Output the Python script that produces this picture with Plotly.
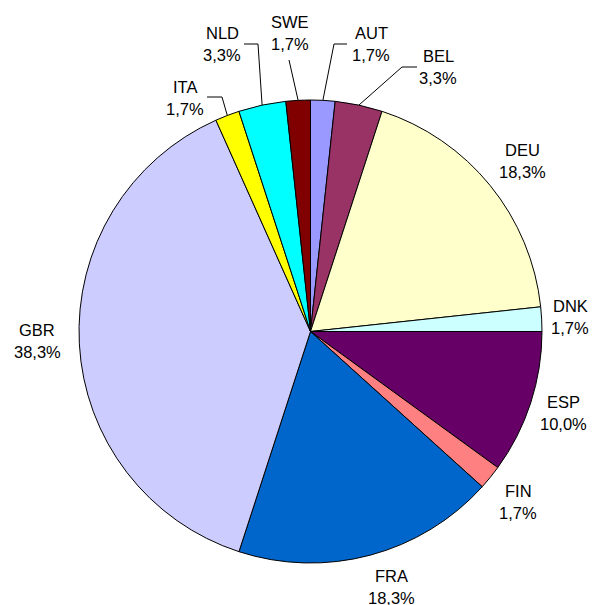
import math
import plotly.graph_objects as go

# Share of observations by country (percent), clockwise from 12 o'clock
countries = ["AUT", "BEL", "DEU", "DNK", "ESP", "FIN", "FRA", "GBR", "ITA", "NLD", "SWE"]
shares = [1.7, 3.3, 18.3, 1.7, 10.0, 1.7, 18.3, 38.3, 1.7, 3.3, 1.7]
colors = ["#9999FF", "#993366", "#FFFFCC", "#CCFFFF", "#660066", "#FF8080",
          "#0066CC", "#CCCCFF", "#FFFF00", "#00FFFF", "#800000"]

W, H = 592, 605
# pie placement in pixels
PIE_LEFT, PIE_RIGHT, PIE_TOP, PIE_BOTTOM = 78, 543, 100, 563
CX = (PIE_LEFT + PIE_RIGHT) / 2
CY = (PIE_TOP + PIE_BOTTOM) / 2
R = min(PIE_RIGHT - PIE_LEFT, PIE_BOTTOM - PIE_TOP) / 2

# label block centres (pixels) and leader-line routes for the crowded slices
label_pos = {
    "AUT": (371, 44), "BEL": (438, 67), "DEU": (522, 161), "DNK": (570, 317),
    "ESP": (563, 413), "FIN": (518, 502), "FRA": (391, 587), "GBR": (37, 341),
    "ITA": (185, 98), "NLD": (222, 44), "SWE": (290, 33),
}
leader_route = {
    "AUT": [(334, 44), (347, 44)],
    "BEL": [(402, 67), (417, 67)],
    "NLD": [(258, 44), (244, 44)],
    "ITA": [(222, 97), (207, 97)],
    "SWE": [(289, 60)],
}

def fmt(v):
    return f"{v:.1f}".replace(".", ",") + "%"

fig = go.Figure()
fig.add_trace(go.Pie(
    labels=countries, values=shares, sort=False, direction="clockwise", rotation=0,
    marker=dict(colors=colors, line=dict(color="black", width=1)),
    textinfo="none", hoverinfo="label+percent", showlegend=False,
    domain=dict(x=[PIE_LEFT / W, PIE_RIGHT / W], y=[1 - PIE_BOTTOM / H, 1 - PIE_TOP / H]),
))

font = dict(family="Liberation Sans, Arial, sans-serif", size=16.5, color="black")
annotations = []
shapes = []
total = sum(shares)
cum = 0.0
for name, v in zip(countries, shares):
    mid = (cum + v / 2) / total * 2 * math.pi
    cum += v
    lx, ly = label_pos[name]
    annotations.append(dict(x=lx, y=ly - 11, xref="x", yref="y", text=name,
                            showarrow=False, font=font, xanchor="center", yanchor="middle"))
    annotations.append(dict(x=lx, y=ly + 11, xref="x", yref="y", text=fmt(v),
                            showarrow=False, font=font, xanchor="center", yanchor="middle"))
    if name in leader_route:
        pts = [(CX + R * math.sin(mid), CY - R * math.cos(mid))] + leader_route[name]
        path = "M " + " L ".join(f"{x:.1f},{y:.1f}" for x, y in pts)
        shapes.append(dict(type="path", path=path, xref="x", yref="y",
                           line=dict(color="black", width=1)))

fig.update_layout(
    width=W, height=H, margin=dict(l=0, r=0, t=0, b=0),
    paper_bgcolor="white", plot_bgcolor="rgba(0,0,0,0)",
    xaxis=dict(range=[0, W], visible=False, domain=[0, 1], fixedrange=True),
    yaxis=dict(range=[H, 0], visible=False, domain=[0, 1], fixedrange=True),
    annotations=annotations, shapes=shapes,
)

fig.write_html("out.html")
